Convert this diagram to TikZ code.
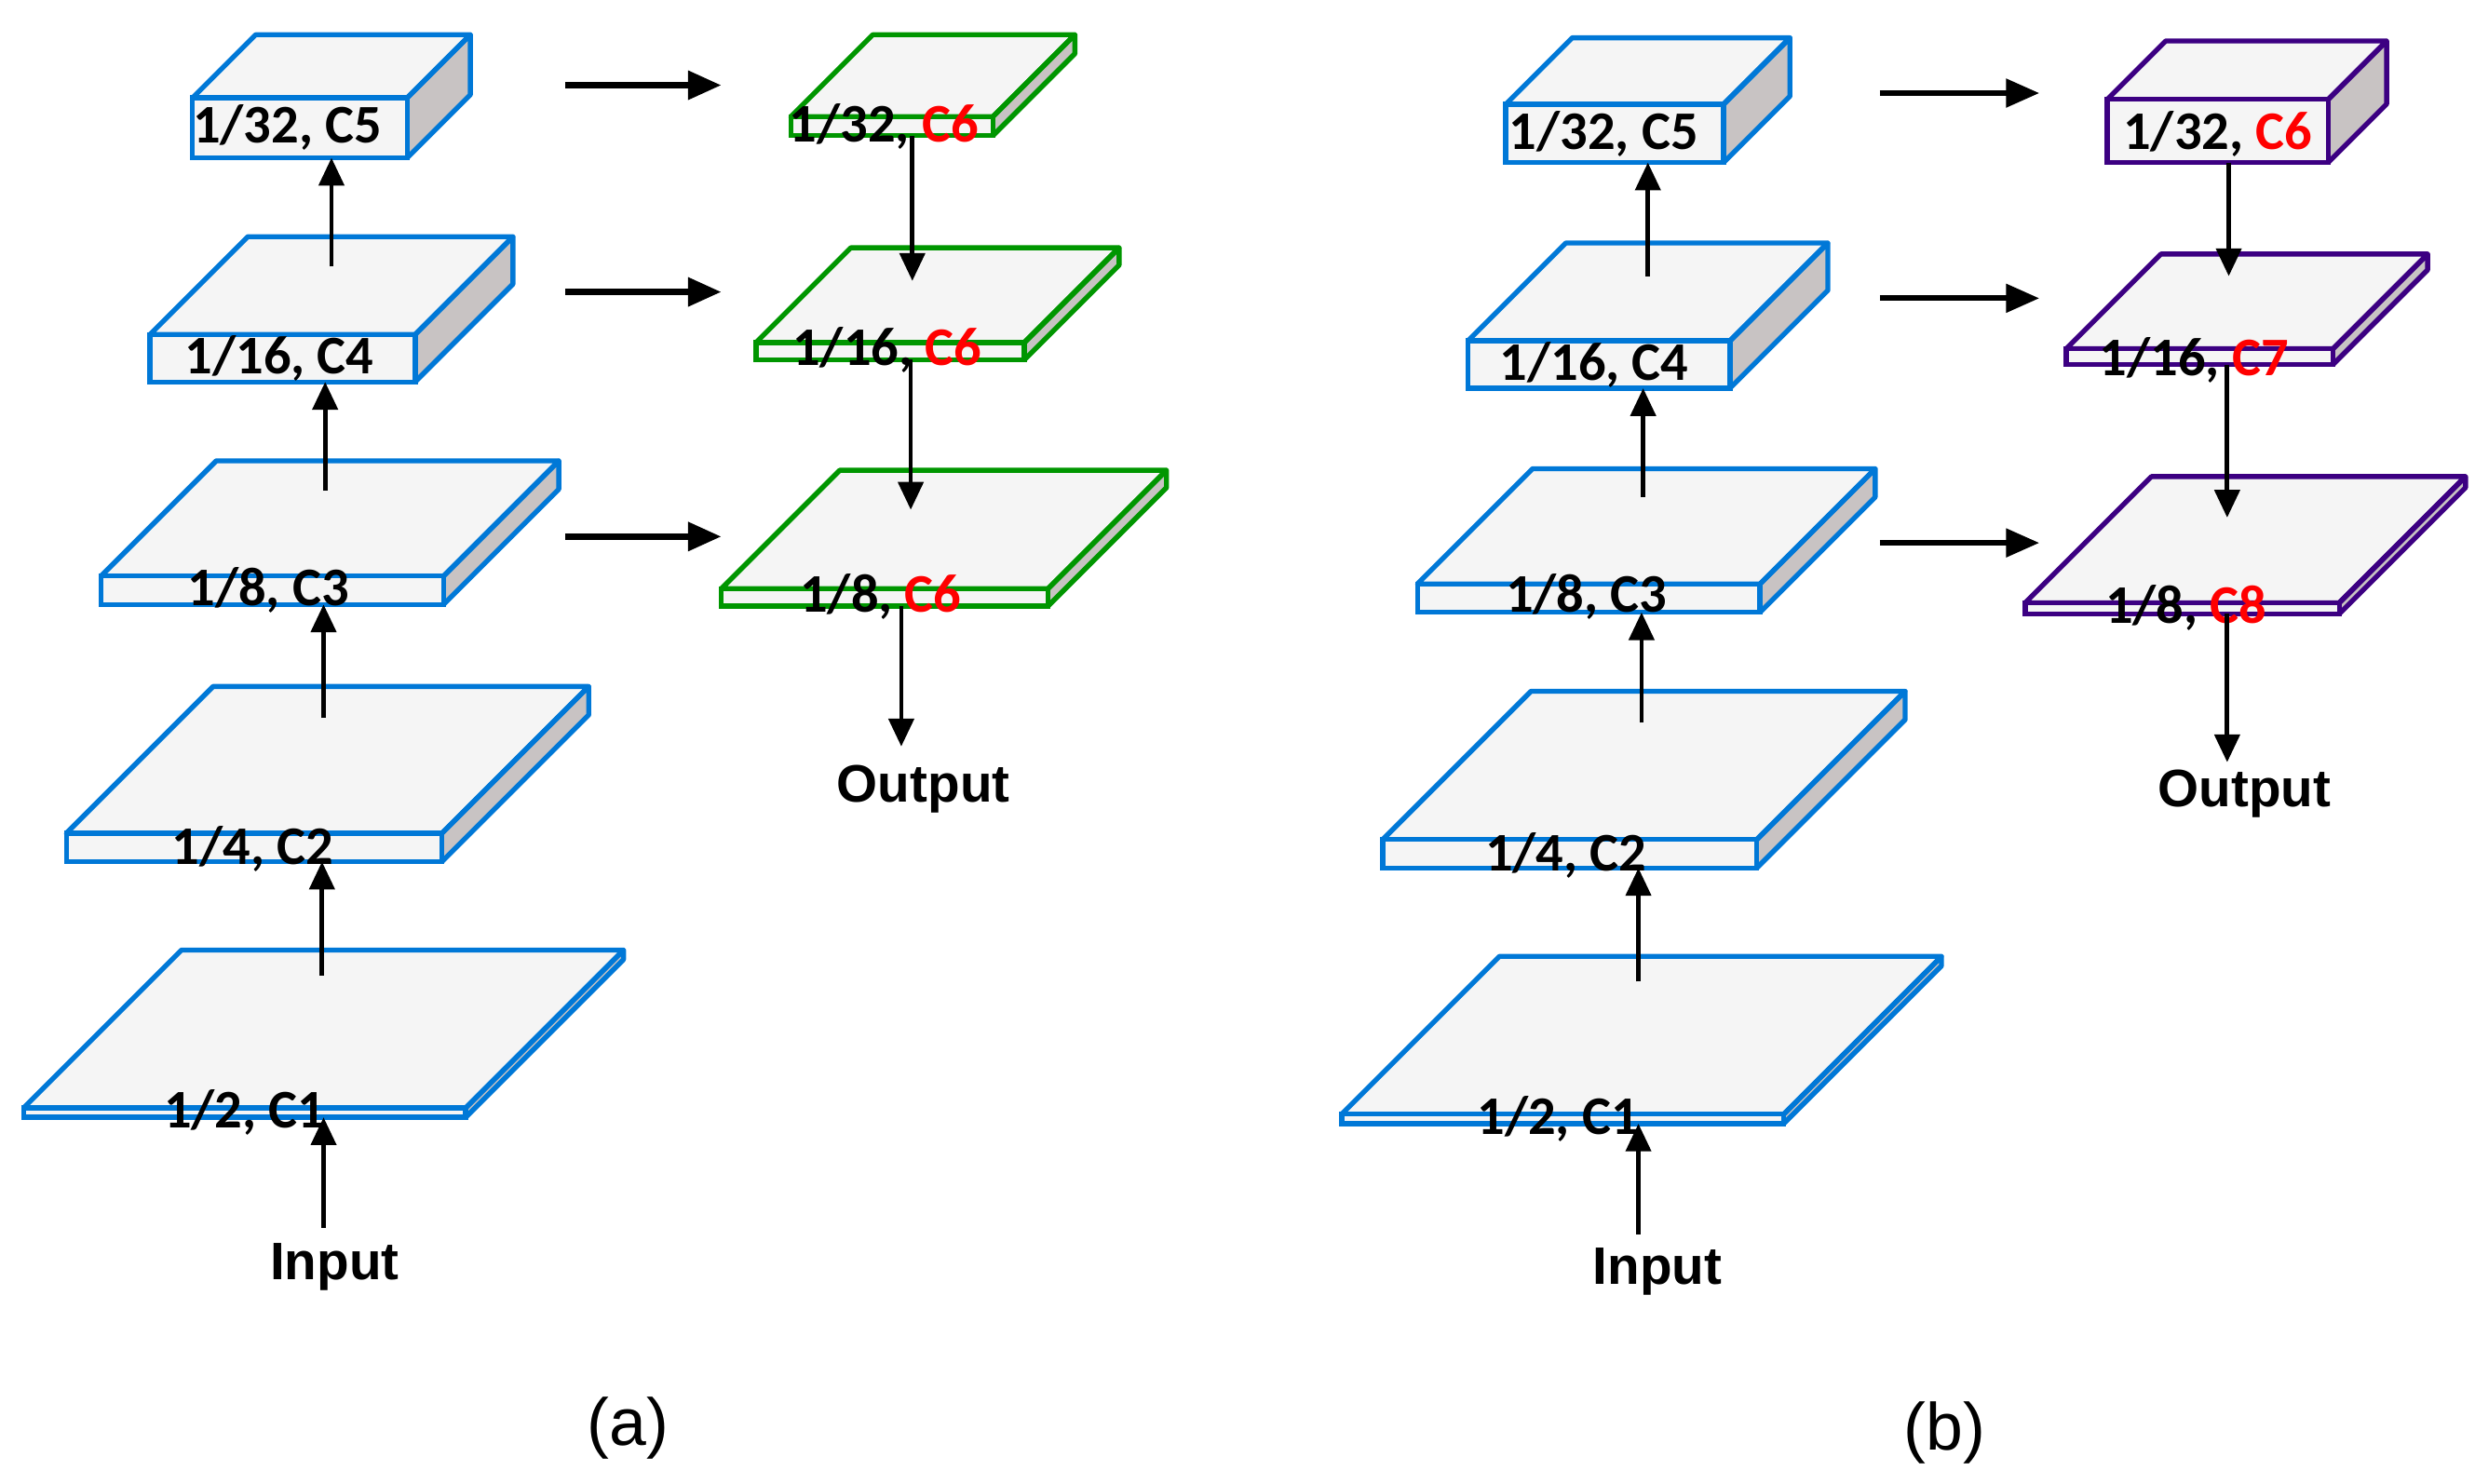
\documentclass[tikz,border=0pt]{standalone}
\usepackage{fontspec}
\setmainfont{Carlito}
\newfontfamily\arialf{Liberation Sans}
\usetikzlibrary{arrows.meta}
\definecolor{cblue}{RGB}{0,120,215}
\definecolor{cgreen}{RGB}{0,150,0}
\definecolor{cpurp}{RGB}{60,0,130}
\definecolor{cside}{RGB}{200,195,195}
\definecolor{cface}{RGB}{245,245,245}
\definecolor{cred}{RGB}{255,0,0}
% #1 colour, #2 front x1, #3 front x2, #4 front top y, #5 front bottom y, #6 depth, #7 name
\newcommand\mkslab[7]{%
  \fill[cside] (#3,#4) -- ({#3+#6},{#4-#6}) -- ({#3+#6},{#5-#6}) -- (#3,#5) -- cycle;
  \draw[#1,line width=0.9pt,line join=round,fill=cface] (#2,#4) -- ({#2+#6},{#4-#6}) -- ({#3+#6},{#4-#6}) -- (#3,#4) -- cycle;
  \draw[#1,line width=0.9pt,line join=round] (#3,#4) -- ({#3+#6},{#4-#6}) -- ({#3+#6},{#5-#6}) -- (#3,#5);
  \draw[#1,line width=0.9pt,fill=cface] (#2,#4) rectangle (#3,#5);
  \coordinate (#7) at ({(#2+#3)/2},#4);}
\tikzset{x=0.01cm,y=-0.01cm,
  lab/.style={font=\fontsize{9.8}{12}\selectfont\bfseries,text=black,inner sep=0},
  io/.style={font=\arialf\fontsize{9.5}{12}\selectfont\bfseries,inner sep=0},
  captxt/.style={font=\arialf\fontsize{12}{14}\selectfont,inner sep=0},
  arr/.style={-{Triangle[length=5pt,width=4.5pt]},line width=0.8pt},
  harr/.style={-{Triangle[length=6pt,width=5pt]},line width=1.2pt}}
\newcommand\rd[1]{\textcolor{cred}{#1}}
\begin{document}
\begin{tikzpicture}
\useasboundingbox (0,0) rectangle (1568,940);
% (a) backbone
\mkslab{cblue}{122}{258}{62}{100}{40}{a5}
\mkslab{cblue}{95}{263}{212}{242}{62}{a4}
\mkslab{cblue}{64}{281}{365}{383}{73}{a3}
\mkslab{cblue}{42}{280}{528}{546}{93}{a2}
\mkslab{cblue}{15}{295}{702}{708}{100}{a1}
\node[lab] (ta5) at (182,81) {1/32, C5};
\node[lab] (ta4) at (177,227) {1/16, C4};
\node[lab] (ta3) at (170,374) {1/8, C3};
\node[lab] (ta2) at (160,538) {1/4, C2};
\node[lab] (ta1) at (155,705) {1/2, C1};
% (a) green
\mkslab{cgreen}{501}{629}{74}{86}{52}{g1}
\mkslab{cgreen}{479}{649}{217}{228}{60}{g2}
\mkslab{cgreen}{457}{664}{373}{384}{75}{g3}
\node[lab] (tg1) at (560,80) {1/32, \rd{C6}};
\node[lab] (tg2) at (562,222) {1/16, \rd{C6}};
\node[lab] (tg3) at (558,378) {1/8, \rd{C6}};
\node[io] (inA) at (212,803) {Input};
\node[io] (outA) at (585,500) {Output};
\node[captxt] (capA) at (398,905) {(a)};
% coordinates for arrows (a)
\coordinate (ah1s) at (358,54);  \coordinate (ah1e) at (457,54);
\coordinate (ah2s) at (358,185); \coordinate (ah2e) at (457,185);
\coordinate (ah3s) at (358,340); \coordinate (ah3e) at (457,340);
\coordinate (au5s) at (210,169); \coordinate (au5e) at (210,100);
\coordinate (au4s) at (206,311); \coordinate (au4e) at (206,242);
\coordinate (au3s) at (205,455); \coordinate (au3e) at (205,383);
\coordinate (au2s) at (204,618); \coordinate (au2e) at (204,546);
\coordinate (au1s) at (205,778); \coordinate (au1e) at (205,708);
\coordinate (ad1s) at (578,86);  \coordinate (ad1e) at (578,178);
\coordinate (ad2s) at (577,228); \coordinate (ad2e) at (577,323);
\coordinate (ad3s) at (571,384); \coordinate (ad3e) at (571,473);
\foreach \n in {1,2,3}{\draw[harr] (ah\n s) -- (ah\n e);}
\foreach \n in {1,...,5}{\draw[arr] (au\n s) -- (au\n e);}
\foreach \n in {1,2,3}{\draw[arr] (ad\n s) -- (ad\n e);}
% (b) backbone
\mkslab{cblue}{954}{1092}{66}{103}{42}{b5}
\mkslab{cblue}{930}{1096}{216}{246}{62}{b4}
\mkslab{cblue}{898}{1115}{370}{388}{73}{b3}
\mkslab{cblue}{876}{1113}{532}{550}{94}{b2}
\mkslab{cblue}{850}{1130}{706}{712}{100}{b1}
\node[lab] (tb5) at (1016,85) {1/32, C5};
\node[lab] (tb4) at (1010,231) {1/16, C4};
\node[lab] (tb3) at (1005,378) {1/8, C3};
\node[lab] (tb2) at (992,542) {1/4, C2};
\node[lab] (tb1) at (987,709) {1/2, C1};
% (b) purple
\mkslab{cpurp}{1335}{1475}{63}{103}{37}{p1}
\mkslab{cpurp}{1309}{1478}{221}{231}{60}{p2}
\mkslab{cpurp}{1283}{1482}{382}{389}{80}{p3}
\node[lab] (tp1) at (1405,85) {1/32, \rd{C6}};
\node[lab] (tp2) at (1390,228) {1/16, \rd{C7}};
\node[lab] (tp3) at (1385,385) {1/8, \rd{C8}};
\node[io] (inB) at (1050,806) {Input};
\node[io] (outB) at (1422,503) {Output};
\node[captxt] (capB) at (1232,908) {(b)};
\coordinate (bh1s) at (1191,59);  \coordinate (bh1e) at (1292,59);
\coordinate (bh2s) at (1191,189); \coordinate (bh2e) at (1292,189);
\coordinate (bh3s) at (1191,344); \coordinate (bh3e) at (1292,344);
\coordinate (bu5s) at (1044,175); \coordinate (bu5e) at (1044,103);
\coordinate (bu4s) at (1041,315); \coordinate (bu4e) at (1041,246);
\coordinate (bu3s) at (1040,458); \coordinate (bu3e) at (1040,388);
\coordinate (bu2s) at (1038,622); \coordinate (bu2e) at (1038,550);
\coordinate (bu1s) at (1038,782); \coordinate (bu1e) at (1038,712);
\coordinate (bd1s) at (1412,103); \coordinate (bd1e) at (1412,175);
\coordinate (bd2s) at (1411,231); \coordinate (bd2e) at (1411,328);
\coordinate (bd3s) at (1411,389); \coordinate (bd3e) at (1411,483);
\foreach \n in {1,2,3}{\draw[harr,line width=1pt] (bh\n s) -- (bh\n e);}
\foreach \n in {1,...,5}{\draw[arr] (bu\n s) -- (bu\n e);}
\foreach \n in {1,2,3}{\draw[arr] (bd\n s) -- (bd\n e);}
\end{tikzpicture}
\end{document}
